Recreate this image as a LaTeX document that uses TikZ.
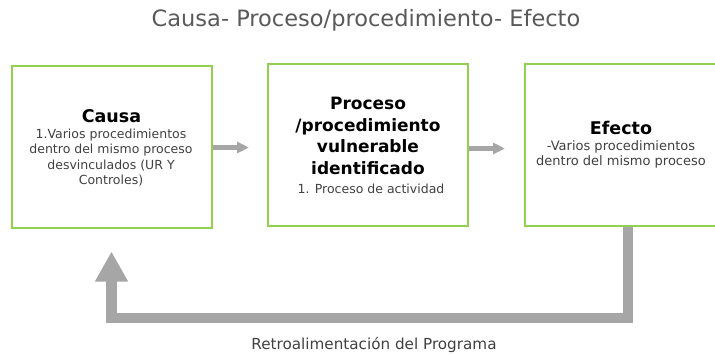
\documentclass[tikz,border=0pt]{standalone}
\usepackage{fontspec}
\setmainfont{DejaVu Sans}
\usetikzlibrary{arrows.meta}
\definecolor{boxgreen}{RGB}{146,208,80}
\definecolor{arrowgray}{RGB}{166,166,166}
\definecolor{titlegray}{RGB}{89,89,89}
\definecolor{bodygray}{RGB}{64,64,64}
\begin{document}
\begin{tikzpicture}[x=1pt,y=-1pt,
  stepbox/.style={draw=boxgreen,line width=2pt,minimum width=200pt,minimum height=162pt,inner sep=0pt,fill=white},
  boxtitle/.style={align=center,font=\fontsize{17}{21.5}\selectfont\bfseries,text=black,inner sep=0pt},
  boxbody/.style={align=center,font=\fontsize{12.5}{15.3}\selectfont,text=bodygray,inner sep=0pt},
  flow/.style={draw=arrowgray,line width=4.5pt,-{Triangle[length=12pt,width=11pt]}},
  feedback/.style={draw=arrowgray,line width=10.5pt,-{Triangle[length=30pt,width=31pt]}}
]
\useasboundingbox (0,0) rectangle (715,354);
\node[font=\fontsize{22.5}{26}\selectfont,text=titlegray] (title) at (366,20) {Causa- Proceso/procedimiento- Efecto};

\node[stepbox] (b1) at (111.5,146.5) {};
\node[stepbox] (b2) at (368,145) {};
\node[stepbox] (b3) at (625,144.5) {};

\node[boxtitle,font=\fontsize{17.5}{21.5}\selectfont\bfseries] (t1) at (111.5,116) {Causa};
\node[boxbody] (d1) at (111,157.5) {1.Varios procedimientos\\dentro del mismo proceso\\desvinculados (UR Y\\Controles)};

\node[boxtitle] (t2) at (368,136) {Proceso\\/procedimiento\\vulnerable\\identificado};
\node[boxbody] (d2) at (371,189) {1. Proceso de actividad};

\node[boxtitle,font=\fontsize{17.5}{21.5}\selectfont\bfseries] (t3) at (621,128) {Efecto};
\node[boxbody,font=\fontsize{13}{15.5}\selectfont] (d3) at (621,154.5) {-Varios procedimientos\\dentro del mismo proceso};

\draw[flow,shorten >=18pt,shorten <=0pt] ([yshift=-1pt]b1.east) -- ([yshift=-1pt]b1.east -| b2.west);
\draw[flow,shorten >=19pt,shorten <=0pt] ([yshift=-3.5pt]b2.east) -- ([yshift=-3.5pt]b2.east -| b3.west);

\coordinate (fb) at (375,318);
\draw[feedback,shorten >=23pt] ([xshift=3pt]b3.south) |- (fb) -| (b1.south);
\node[font=\fontsize{15.2}{18}\selectfont,text=bodygray] (fbl) at (374,345) {Retroalimentación del Programa};
\end{tikzpicture}
\end{document}
